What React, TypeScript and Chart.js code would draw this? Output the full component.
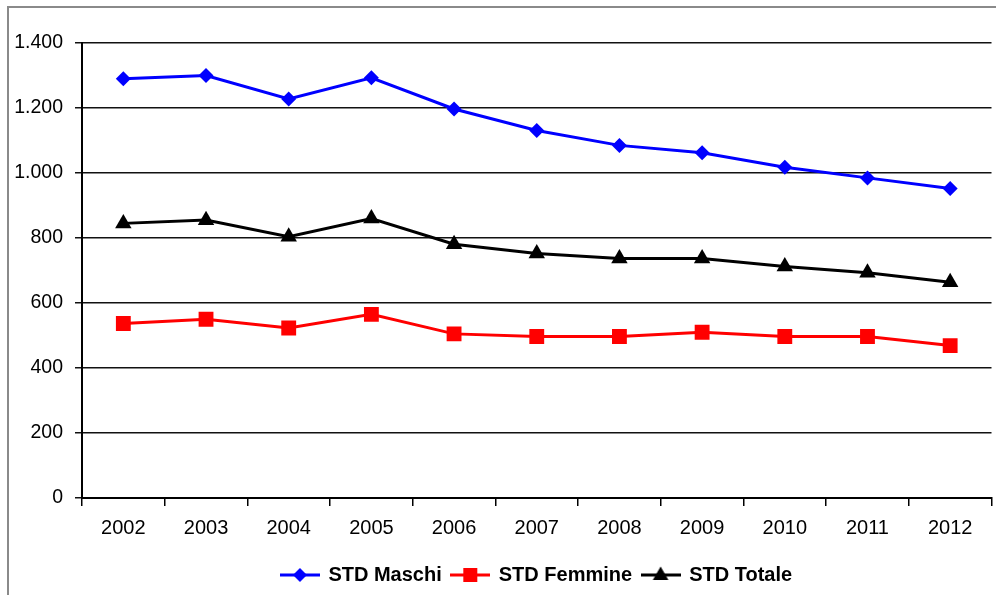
import React, { useEffect, useRef } from "react";
import { Chart, registerables } from "chart.js";

Chart.register(...registerables);

const categories = ["2002", "2003", "2004", "2005", "2006", "2007", "2008", "2009", "2010", "2011", "2012"];
const maschi = [1290, 1300, 1228, 1293, 1197, 1131, 1085, 1062, 1018, 985, 952];
const femmine = [537, 550, 523, 565, 505, 497, 497, 510, 497, 497, 469];
const totale = [845, 855, 804, 860, 781, 752, 737, 737, 712, 693, 664];
const seriesNames = ["STD Maschi", "STD Femmine", "STD Totale"];
const seriesColors = ["#0000ff", "#ff0000", "#000000"];
const seriesMarkers = ["rectRot", "rect", "triangle"];
const yMin = 0;
const yMax = 1400;
const yStep = 200;

const FONT = "'Liberation Sans', Arial, Helvetica, sans-serif";

function formatIt(v: number): string {
  return String(v).replace(/\B(?=(\d{3})+(?!\d))/g, ".");
}

function legendSwatch(color: string, style: string): HTMLCanvasElement {
  const c = document.createElement("canvas");
  c.width = 40;
  c.height = 20;
  const ctx = c.getContext("2d")!;
  ctx.strokeStyle = color;
  ctx.lineWidth = 3;
  ctx.beginPath();
  ctx.moveTo(0, 10);
  ctx.lineTo(40, 10);
  ctx.stroke();
  ctx.fillStyle = color;
  ctx.beginPath();
  if (style === "rectRot") {
    ctx.moveTo(20, 3);
    ctx.lineTo(27, 10);
    ctx.lineTo(20, 17);
    ctx.lineTo(13, 10);
  } else if (style === "rect") {
    ctx.rect(13, 3, 14, 14);
  } else {
    ctx.moveTo(20, 1.5);
    ctx.lineTo(27.8, 15);
    ctx.lineTo(12.2, 15);
  }
  ctx.closePath();
  ctx.fill();
  return c;
}

const frame = {
  id: "frame",
  beforeDraw(chart: any) {
    const ctx = chart.ctx;
    ctx.save();
    ctx.fillStyle = "#ffffff";
    ctx.fillRect(0, 0, chart.width, chart.height);
    ctx.fillStyle = "#8a8a8a";
    ctx.fillRect(7, 6, 2, chart.height - 6);
    ctx.fillRect(7, 6, chart.width - 7, 2);
    ctx.restore();
  },
};

export default function App() {
  const ref = useRef<HTMLCanvasElement>(null);

  useEffect(() => {
    if (!ref.current) return;
    const swatches = seriesNames.map((_, i) => legendSwatch(seriesColors[i], seriesMarkers[i]));
    const radii = [7.5, 10.5, 9.5];
    const data = [maschi, femmine, totale];
    const chart = new Chart(ref.current, {
      type: "line",
      data: {
        labels: categories,
        datasets: seriesNames.map((name, i) => ({
          label: name,
          data: data[i],
          borderColor: seriesColors[i],
          backgroundColor: seriesColors[i],
          pointBackgroundColor: seriesColors[i],
          pointBorderColor: seriesColors[i],
          pointBorderWidth: 0,
          pointStyle: seriesMarkers[i] as any,
          pointRadius: radii[i],
          borderWidth: 3,
          tension: 0,
        })),
      },
      options: {
        responsive: false,
        animation: false,
        layout: { padding: { left: 0, right: 5, top: 43, bottom: 0 } },
        scales: {
          x: {
            type: "category",
            offset: true,
            grid: {
              display: true,
              drawOnChartArea: false,
              drawTicks: true,
              tickLength: 8,
              color: "#000",
              lineWidth: 1.5,
              offset: true,
            },
            border: { display: true, color: "#000", width: 2 },
            ticks: {
              color: "#000",
              padding: 10,
              font: { family: FONT, size: 20 },
              maxRotation: 0,
              autoSkip: false,
            },
            afterFit: (s: any) => {
              s.height = 57;
              s.paddingLeft = 0;
              s.paddingRight = 0;
            },
          },
          y: {
            min: yMin,
            max: yMax,
            grid: { color: "#111", lineWidth: 1.5, tickLength: 7, drawTicks: true },
            border: { display: true, color: "#000", width: 2 },
            ticks: {
              stepSize: yStep,
              color: "#000",
              padding: 12,
              font: { family: FONT, size: 19.5 },
              callback: (v: any) => formatIt(Number(v)),
            },
            afterFit: (s: any) => {
              s.width = 82;
            },
          },
        },
        plugins: {
          title: { display: false },
          tooltip: { enabled: false },
          legend: {
            display: true,
            position: "bottom",
            fullSize: false,
            labels: {
              usePointStyle: true,
              pointStyleWidth: 37,
              padding: 10,
              color: "#000",
              font: { family: FONT, size: 20, weight: "bold" },
              generateLabels: (ch: any) =>
                Chart.defaults.plugins.legend.labels
                  .generateLabels(ch)
                  .map((l: any, i: number) => ({ ...l, pointStyle: swatches[i] })),
            },
          },
        },
      },
      plugins: [frame],
    });
    return () => chart.destroy();
  }, []);

  return (
    <canvas
      ref={ref}
      width={1002}
      height={595}
      style={{ position: "fixed", left: 0, top: 0, width: 1002, height: 595, display: "block" }}
    />
  );
}
